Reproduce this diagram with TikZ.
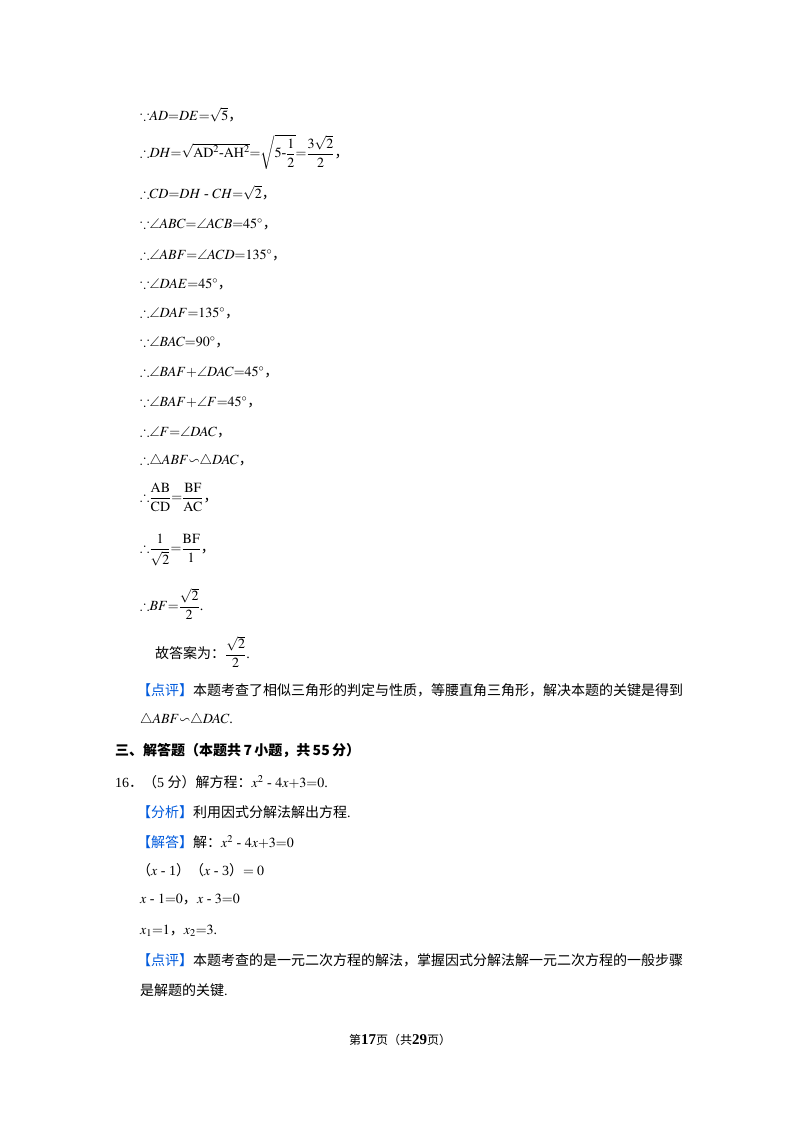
\documentclass[tikz,border=0pt]{standalone}
\usepackage{amsmath,amssymb}
\usepackage{mathptmx}
\usepackage{fontspec}
\setmainfont{Liberation Serif}
\newfontfamily\cjk{Noto Sans CJK SC}
\definecolor{bl}{RGB}{0,90,220}
\newcommand{\bc}{\mathord{\because}}
\newcommand{\tf}{\mathord{\therefore}}
\newcommand{\cm}{{\cjk ，}}
\begin{document}
\begin{tikzpicture}[x=1pt,y=-1pt,every node/.style={anchor=west,inner sep=0pt,font=\fontsize{14}{17}\selectfont}]
\useasboundingbox (0,0) rectangle (800,1132);
\tikzset{ln/.style={}}
\node[ln] (l1) at (140,115) {$\bc AD{=}DE{=}\sqrt{5}$\cm};
\node[ln] (l2) at (140,152) {$\tf DH{=}\sqrt{\mathrm{AD}^2\text{-}\mathrm{AH}^2}{=}\sqrt{5\text{-}\dfrac12}{=}\dfrac{3\sqrt2}{2}$\cm};
\node[ln] (l3) at (140,193) {$\tf CD{=}DH$ - $CH{=}\sqrt2$\cm};
\node[ln] (l4) at (140,224) {$\bc\angle ABC{=}\angle ACB{=}45^\circ$\cm};
\node[ln] (l5) at (140,255) {$\tf\angle ABF{=}\angle ACD{=}135^\circ$\cm};
\node[ln] (l6) at (140,284) {$\bc\angle DAE{=}45^\circ$\cm};
\node[ln] (l7) at (140,313) {$\tf\angle DAF{=}135^\circ$\cm};
\node[ln] (l8) at (140,342) {$\bc\angle BAC{=}90^\circ$\cm};
\node[ln] (l9) at (140,372) {$\tf\angle BAF{+}\angle DAC{=}45^\circ$\cm};
\node[ln] (l10) at (140,402) {$\bc\angle BAF{+}\angle F{=}45^\circ$\cm};
\node[ln] (l11) at (140,432) {$\tf\angle F{=}\angle DAC$\cm};
\node[ln] (l12) at (140,461) {$\tf\triangle ABF{\backsim}\triangle DAC$\cm};
\node[ln] (l13) at (140,497) {$\tf\dfrac{\mathrm{AB}}{\mathrm{CD}}{=}\dfrac{\mathrm{BF}}{\mathrm{AC}}$\cm};
\node[ln] (l14) at (140,550) {$\tf\dfrac{1}{\sqrt2}{=}\dfrac{\mathrm{BF}}{1}$\cm};
\node[ln] (l15) at (140,604) {$\tf BF{=}\dfrac{\sqrt2}{2}$.};
\node[ln] (l16) at (155,652) {{\cjk 故答案为：}$\dfrac{\sqrt2}{2}$.};
\node[ln] (l17) at (137,690) {{\cjk\color{bl}【点评】}{\cjk 本题考查了相似三角形的判定与性质，等腰直角三角形，解决本题的关键是得到}};
\node[ln] (l18) at (140,720) {$\triangle ABF{\backsim}\triangle DAC$.};
\node[ln] (l19) at (115,751) {\cjk\bfseries 三、解答题（本题共\,\textbf{7}\,小题，共\,\textbf{55}\,分）};
\node[ln] (l20) at (115,782) {16{\cjk ．（}5 {\cjk 分）解方程：}$x^2$ - $4x{+}3{=}0$.};
\node[ln] (l21) at (137,812) {{\cjk\color{bl}【分析】}{\cjk 利用因式分解法解出方程}.};
\node[ln] (l22) at (137,842) {{\cjk\color{bl}【解答】}{\cjk 解：}$x^2$ - $4x{+}3{=}0$};
\node[ln] (l23) at (137,870) {{\cjk（}$x$ - 1{\cjk ）（}$x$ - 3{\cjk ）}$=0$};
\node[ln] (l24) at (140,900) {$x$ - $1{=}0$\cm$x$ - $3{=}0$};
\node[ln] (l25) at (140,931) {$x_1{=}1$\cm$x_2{=}3$.};
\node[ln] (l26) at (137,960) {{\cjk\color{bl}【点评】}{\cjk 本题考查的是一元二次方程的解法，掌握因式分解法解一元二次方程的一般步骤}};
\node[ln] (l27) at (140,990) {{\cjk 是解题的关键}.};
\node[anchor=center,font=\fontsize{12}{14}\selectfont] (ft) at (400,1040) {{\cjk 第}\textbf{\fontsize{15}{16}\selectfont 17}{\cjk 页（共}\textbf{\fontsize{15}{16}\selectfont 29}{\cjk 页）}};
\end{tikzpicture}
\end{document}
